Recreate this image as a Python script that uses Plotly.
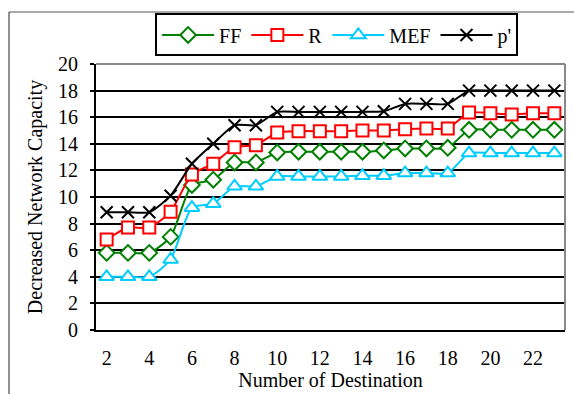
import plotly.graph_objects as go

destinations = list(range(2, 24))
ff = [5.8, 5.8, 5.8, 7.0, 10.9, 11.3, 12.6, 12.6, 13.35, 13.4, 13.4, 13.4, 13.4, 13.5, 13.65, 13.65, 13.7, 15.05, 15.05, 15.05, 15.05, 15.05]
r = [6.8, 7.7, 7.7, 8.9, 11.7, 12.5, 13.75, 13.9, 14.85, 14.95, 14.95, 14.95, 15.0, 15.0, 15.1, 15.15, 15.15, 16.35, 16.3, 16.2, 16.3, 16.3]
mef = [4.0, 4.0, 4.0, 5.3, 9.2, 9.5, 10.8, 10.8, 11.55, 11.55, 11.55, 11.55, 11.6, 11.6, 11.8, 11.8, 11.8, 13.3, 13.3, 13.3, 13.3, 13.3]
p_prime = [8.85, 8.85, 8.85, 10.1, 12.5, 14.0, 15.4, 15.4, 16.4, 16.4, 16.4, 16.4, 16.4, 16.45, 17.0, 17.0, 17.0, 18.0, 18.0, 18.0, 18.0, 18.0]
x_labels = [2, 4, 6, 8, 10, 12, 14, 16, 18, 20, 22]
y_ticks = [0, 2, 4, 6, 8, 10, 12, 14, 16, 18, 20]

FONT = "Liberation Serif"

series = [
    ("FF", ff, "#008000", "diamond", 12, "white"),
    ("R", r, "#FF0000", "square", 12, "white"),
    ("MEF", mef, "#00CCFF", "triangle-up", 13, "white"),
    ("p'", p_prime, "#000000", "x-thin", 12, "#000000"),
]

fig = go.Figure()
for name, vals, color, sym, size, fill in series:
    fig.add_trace(go.Scatter(
        x=destinations, y=vals, name=name, mode="lines+markers",
        line=dict(color=color, width=2, shape="spline", smoothing=0.6),
        marker=dict(symbol=sym, size=size, color=fill,
                    line=dict(color=color, width=2)),
    ))

fig.update_layout(
    width=574, height=394,
    margin=dict(l=96, r=9, t=64, b=64, autoexpand=False),
    paper_bgcolor="white", plot_bgcolor="white",
    font=dict(family=FONT, size=20, color="black"),
    showlegend=True,
    legend=dict(orientation="h", x=0.126, y=1.19, xanchor="left", yanchor="top",
                bordercolor="black", borderwidth=2, font=dict(size=20, family=FONT),
                tracegroupgap=0, itemwidth=52),
    xaxis=dict(range=[1.5, 23.5], tickvals=x_labels, ticktext=[str(v) for v in x_labels],
               ticks="", showgrid=False, zeroline=False, showline=True, automargin=False,
               linecolor="black", linewidth=2, ticklabelstandoff=9,
               tickfont=dict(size=20, family=FONT),
               title=dict(text="Number of Destination", standoff=2,
                          font=dict(size=20, family=FONT))),
    xaxis2=dict(range=[1.5, 23.5], overlaying="x", anchor="y",
                tickvals=[v + 0.5 for v in destinations], ticks="inside", ticklen=5,
                tickwidth=1.5, tickcolor="black", showticklabels=False, automargin=False,
                showgrid=False, zeroline=False, side="bottom"),
    yaxis=dict(range=[0, 20], tickvals=y_ticks, ticks="outside", ticklen=4,
               tickwidth=1.5, tickcolor="black", automargin=False,
               tickfont=dict(size=20, family=FONT), ticklabelstandoff=8,
               showgrid=True, gridcolor="black", gridwidth=1.5, zeroline=False,
               showline=True, linecolor="black", linewidth=2,
               title=dict(text="Decreased Network Capacity", standoff=10,
                          font=dict(size=20, family=FONT))),
)

# gray plot border on top and right
fig.add_shape(type="line", xref="paper", yref="paper", x0=0, x1=1, y0=1, y1=1,
              line=dict(color="#888888", width=2), layer="above")
fig.add_shape(type="line", xref="paper", yref="paper", x0=1, x1=1, y0=0, y1=1,
              line=dict(color="#888888", width=2), layer="above")
# outer chart frame (left and top)
fig.add_shape(type="line", xref="paper", yref="paper",
              x0=(9 - 96) / 469, x1=(574 - 96) / 469,
              y0=(330 - 12) / 266, y1=(330 - 12) / 266,
              line=dict(color="#555555", width=1))
fig.add_shape(type="line", xref="paper", yref="paper",
              x0=(9 - 96) / 469, x1=(9 - 96) / 469,
              y0=(330 - 12) / 266, y1=(330 - 400) / 266,
              line=dict(color="#222222", width=1))

fig.write_html("out.html", config={"displayModeBar": False},
               post_script="document.body.style.margin='0';document.body.style.overflow='hidden';")
